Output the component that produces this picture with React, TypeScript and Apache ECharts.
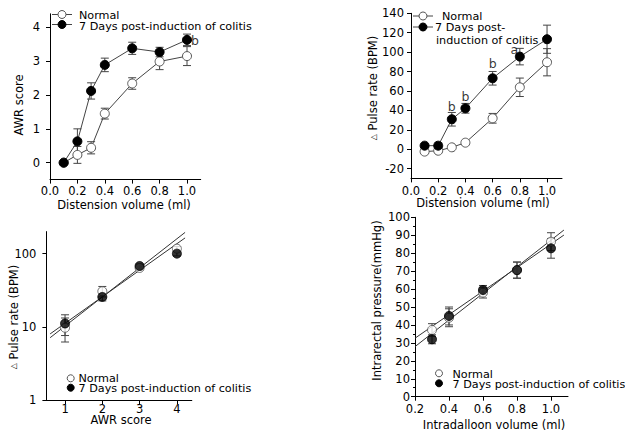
import React, { useEffect, useRef } from "react";
import * as echarts from "echarts";

// ---- Panel A: AWR score vs distension volume
const awrVolumes = [0.1, 0.2, 0.3, 0.4, 0.6, 0.8, 1.0];
const awrNormal = [0, 0.23, 0.44, 1.45, 2.34, 2.99, 3.15];
const awrNormalErr = [0, 0.25, 0.18, 0.16, 0.17, 0.24, 0.28];
const awrColitis = [0, 0.63, 2.12, 2.89, 3.38, 3.27, 3.63];
const awrColitisErr = [0, 0.37, 0.24, 0.2, 0.18, 0.14, 0.17];
const awrMarks = [[1.058, 3.62, "b"]];

// ---- Panel B: pulse rate vs distension volume
const pulseVolumes = [0.1, 0.2, 0.3, 0.4, 0.6, 0.8, 1.0];
const pulseNormal = [-2.4, -1.5, 2, 6.8, 31.9, 63.8, 89.6];
const pulseNormalErr = [2, 1.5, 1.5, 2, 5, 9.5, 14];
const pulseColitis = [3.7, 3.7, 30.9, 42.2, 73.1, 95.4, 113.3];
const pulseColitisErr = [2, 3, 7, 5, 7, 8.5, 14.5];
const pulseMarks = [
  [0.3, 44, "b"],
  [0.4, 54, "b"],
  [0.6, 88.6, "b"],
  [0.76, 103, "a"],
];

// ---- Panel C: pulse rate vs AWR score (log)
const awrScores = [1, 2, 3, 4];
const corrNormal = [9.7, 30.6, 63.7, 117];
const corrNormalErr = [3.5, 5, 4, 8];
const corrColitis = [11.1, 25.6, 67.8, 100];
const corrColitisErr = [3.5, 3, 4, 7];
const corrFitA = [[0.6, 7.1], [4.22, 195]];
const corrFitB = [[0.6, 8.0], [4.22, 164]];

// ---- Panel D: intrarectal pressure vs balloon volume
const balloonVolumes = [0.3, 0.4, 0.6, 0.8, 1.0];
const pressureNormal = [37.2, 44, 58, 70.5, 86.4];
const pressureNormalErr = [3.5, 5, 3, 4.5, 5];
const pressureColitis = [32, 45, 59.5, 70.6, 82.7];
const pressureColitisErr = [2.5, 5, 2.5, 4.5, 5.5];
const pressureFitA = [[0.2, 27.9], [1.076, 92.9]];
const pressureFitB = [[0.2, 32.6], [1.076, 90.1]];

// tick labels
const volTicks = [0, 0.2, 0.4, 0.6, 0.8, 1.0];
const awrTicks = [0, 1, 2, 3, 4];
const pulseTicks = [-20, 0, 20, 40, 60, 80, 100, 120, 140];
const scoreTicks = [1, 2, 3, 4];
const logTicks = [1, 10, 100];
const balloonTicks = [0.2, 0.4, 0.6, 0.8, 1.0];

const FONT = "DejaVu Sans";
const FS = 11.5;
const LFS = 11.2;
const LABEL_NORMAL = "Normal";
const LABEL_COLITIS = "7 Days post-induction of colitis";

const openItem = { color: "#fff", borderColor: "#555", borderWidth: 1 };
const fillItem = { color: "#000", borderColor: "#000", borderWidth: 1 };

function errorSeries(gi: number, xs: number[], ys: number[], errs: number[]) {
  return {
    type: "custom",
    xAxisIndex: gi,
    yAxisIndex: gi,
    silent: true,
    z: 1,
    encode: { x: 0, y: [1, 2] },
    data: xs.map((x, i) => [x, ys[i] - errs[i], ys[i] + errs[i]]),
    renderItem: (params: any, api: any) => {
      const lo = api.coord([api.value(0), api.value(1)]);
      const hi = api.coord([api.value(0), api.value(2)]);
      if (Math.abs(lo[1] - hi[1]) < 0.5) return { type: "group", children: [] };
      const w = 4;
      const style = { stroke: "#444", lineWidth: 1, fill: null };
      return {
        type: "group",
        children: [
          { type: "line", shape: { x1: lo[0], y1: lo[1], x2: hi[0], y2: hi[1] }, style },
          { type: "line", shape: { x1: lo[0] - w, y1: lo[1], x2: lo[0] + w, y2: lo[1] }, style },
          { type: "line", shape: { x1: hi[0] - w, y1: hi[1], x2: hi[0] + w, y2: hi[1] }, style },
        ],
      };
    },
  };
}

function lineSeries(gi: number, name: string, xs: number[], ys: number[], item: any) {
  return {
    type: "line",
    name,
    xAxisIndex: gi,
    yAxisIndex: gi,
    data: xs.map((x, i) => [x, ys[i]]),
    symbol: "circle",
    symbolSize: 9,
    showSymbol: true,
    itemStyle: item,
    lineStyle: { color: "#444", width: 1 },
    z: 3,
  };
}

function scatterSeries(gi: number, name: string, xs: number[], ys: number[], item: any) {
  return {
    type: "scatter",
    name,
    xAxisIndex: gi,
    yAxisIndex: gi,
    data: xs.map((x, i) => [x, ys[i]]),
    symbol: "circle",
    symbolSize: 9,
    itemStyle: item,
    z: 3,
  };
}

function fitSeries(gi: number, pts: number[][]) {
  return {
    type: "line",
    xAxisIndex: gi,
    yAxisIndex: gi,
    data: pts,
    symbol: "none",
    lineStyle: { color: "#333", width: 1 },
    z: 2,
    silent: true,
  };
}

function markSeries(gi: number, marks: any[]) {
  return {
    type: "scatter",
    xAxisIndex: gi,
    yAxisIndex: gi,
    symbolSize: 1,
    itemStyle: { color: "rgba(0,0,0,0)" },
    data: marks.map((m) => ({ value: [m[0], m[1]], name: m[2] })),
    label: {
      show: true,
      position: "inside",
      formatter: (p: any) => p.name,
      color: "#000",
      fontSize: 12.5,
      fontFamily: FONT,
    },
    z: 4,
    silent: true,
  };
}

function axis(opts: any) {
  const { min, max, ticks, margin, fmt, type, minor, interval } = opts;
  const a: any = {
    type: type || "value",
    min,
    max,
    axisLine: { show: true, onZero: false, lineStyle: { color: "#000", width: 1 } },
    axisTick: { show: true, length: 4, lineStyle: { color: "#000", width: 1 } },
    axisLabel: {
      show: true,
      color: "#000",
      fontSize: FS,
      fontFamily: FONT,
      margin,
      formatter: fmt,
      showMinLabel: true,
      showMaxLabel: true,
    },
    splitLine: { show: false },
  };
  if (type === "log") a.logBase = 10;
  if (interval) {
    a.interval = interval;
  } else if (ticks) {
    a.axisTick.customValues = ticks;
    a.axisLabel.customValues = ticks;
  }
  if (minor) a.minorTick = { show: true, splitNumber: 2, length: 2, lineStyle: { color: "#000" } };
  return a;
}

function legendItem(x: number, y: number, filled: boolean, withLine: boolean, r: number) {
  const els: any[] = [];
  if (withLine) {
    els.push({
      type: "line",
      shape: { x1: x - 10, y1: y, x2: x + 10, y2: y },
      style: { stroke: "#444", lineWidth: 1 },
    });
  }
  els.push({
    type: "circle",
    shape: { cx: x, cy: y, r },
    style: filled ? { fill: "#000", stroke: "#000" } : { fill: "#fff", stroke: "#555", lineWidth: 1 },
  });
  return els;
}

function txt(x: number, y: number, text: string, extra: any = {}) {
  return {
    type: "text",
    x,
    y,
    style: {
      text,
      fill: "#000",
      fontSize: LFS,
      fontFamily: FONT,
      align: "left",
      verticalAlign: "middle",
      ...extra,
    },
  };
}

function vtitle(x: number, y: number, text: string, rich?: any) {
  return {
    type: "text",
    x,
    y,
    rotation: Math.PI / 2,
    style: {
      text,
      fill: "#000",
      fontSize: FS,
      fontFamily: FONT,
      align: "center",
      verticalAlign: "middle",
      rich,
    },
  };
}

export default function App() {
  const ref = useRef<HTMLDivElement>(null);

  useEffect(() => {
    if (!ref.current) return;
    const chart = echarts.init(ref.current, undefined, { renderer: "svg" });
    const triRich = {
      t: { fontSize: 8, fontFamily: FONT, fill: "#000", color: "#000" },
    };
    const option: any = {
      animation: false,
      backgroundColor: "#fff",
      grid: [
        { left: 50, top: 13.8, width: 150.7, height: 165.8 },
        { left: 411, top: 13.3, width: 151, height: 165.1 },
        { left: 46.4, top: 231.6, width: 145.4, height: 168.4 },
        { left: 415, top: 217.3, width: 153, height: 179.4 },
      ],
      xAxis: [
        { gridIndex: 0, ...axis({ min: 0, max: 1.1, ticks: volTicks, margin: 5, fmt: (v: number) => v.toFixed(1) }) },
        { gridIndex: 1, ...axis({ min: 0, max: 1.11, ticks: volTicks, margin: 7, fmt: (v: number) => v.toFixed(1) }) },
        { gridIndex: 2, ...axis({ min: 0.5, max: 4.4, ticks: scoreTicks, margin: 3, fmt: (v: number) => String(v) }) },
        { gridIndex: 3, ...axis({ min: 0.2, max: 1.1, ticks: balloonTicks, margin: 6, fmt: (v: number) => v.toFixed(1) }) },
      ],
      yAxis: [
        { gridIndex: 0, ...axis({ min: -0.5, max: 4.4, ticks: awrTicks, margin: 10, fmt: (v: number) => String(v) }) },
        { gridIndex: 1, ...axis({ min: -30, max: 140, ticks: pulseTicks, margin: 7, fmt: (v: number) => String(v) }) },
        { gridIndex: 2, ...axis({ type: "log", min: 1, max: 200, ticks: logTicks, margin: 10, fmt: (v: number) => String(v) }) },
        { gridIndex: 3, ...axis({ min: 0, max: 100, interval: 10, margin: 5, minor: true, fmt: (v: number) => String(v) }) },
      ],
      series: [
        // panel A
        errorSeries(0, awrVolumes, awrNormal, awrNormalErr),
        errorSeries(0, awrVolumes, awrColitis, awrColitisErr),
        lineSeries(0, LABEL_NORMAL, awrVolumes, awrNormal, openItem),
        lineSeries(0, LABEL_COLITIS, awrVolumes, awrColitis, fillItem),
        markSeries(0, awrMarks),
        // panel B
        errorSeries(1, pulseVolumes, pulseNormal, pulseNormalErr),
        errorSeries(1, pulseVolumes, pulseColitis, pulseColitisErr),
        lineSeries(1, LABEL_NORMAL, pulseVolumes, pulseNormal, openItem),
        lineSeries(1, LABEL_COLITIS, pulseVolumes, pulseColitis, fillItem),
        markSeries(1, pulseMarks),
        // panel C
        fitSeries(2, corrFitA),
        fitSeries(2, corrFitB),
        errorSeries(2, awrScores, corrNormal, corrNormalErr),
        errorSeries(2, awrScores, corrColitis, corrColitisErr),
        scatterSeries(2, LABEL_NORMAL, awrScores, corrNormal, openItem),
        scatterSeries(2, LABEL_COLITIS, awrScores, corrColitis, fillItem),
        // panel D
        fitSeries(3, pressureFitA),
        fitSeries(3, pressureFitB),
        errorSeries(3, balloonVolumes, pressureNormal, pressureNormalErr),
        errorSeries(3, balloonVolumes, pressureColitis, pressureColitisErr),
        scatterSeries(3, LABEL_NORMAL, balloonVolumes, pressureNormal, openItem),
        scatterSeries(3, LABEL_COLITIS, balloonVolumes, pressureColitis, fillItem),
      ],
      graphic: [
        // legends
        ...legendItem(62, 14.5, false, true, 4),
        txt(79, 15.5, LABEL_NORMAL),
        ...legendItem(62, 24.5, true, true, 4),
        txt(79, 26, LABEL_COLITIS),

        ...legendItem(423, 16, false, true, 4),
        txt(442, 16.5, LABEL_NORMAL),
        ...legendItem(423, 27, true, true, 4),
        txt(435, 27.5, "7 Days post-"),
        txt(436, 40, "induction of colitis"),

        ...legendItem(70.7, 378.3, false, false, 3.5),
        txt(78.5, 378.5, LABEL_NORMAL),
        ...legendItem(70.7, 387.7, true, false, 3.5),
        txt(78.5, 388.5, LABEL_COLITIS),

        ...legendItem(439, 373.3, false, false, 3.5),
        txt(452.5, 374, LABEL_NORMAL),
        ...legendItem(439, 383.3, true, false, 3.5),
        txt(452.5, 384.5, LABEL_COLITIS),

        // axis titles
        vtitle(19, 105, "AWR score"),
        txt(124, 205, "Distension volume (ml)", { align: "center", fontSize: FS }),
        vtitle(373, 88, "{t|△} Pulse rate (BPM)", triRich),
        txt(483, 203, "Distension volume (ml)", { align: "center", fontSize: FS }),
        vtitle(13.5, 317, "{t|△} Pulse rate (BPM)", triRich),
        txt(121, 420, "AWR score", { align: "center", fontSize: FS }),
        vtitle(376.5, 300.5, "Intrarectal pressure(mmHg)"),
        txt(494, 425, "Intradalloon volume (ml)", { align: "center", fontSize: FS }),
      ],
    };
    chart.setOption(option);
    return () => chart.dispose();
  }, []);

  return (
    <div
      ref={ref}
      style={{ position: "absolute", left: 0, top: 0, width: 625, height: 437, background: "#fff" }}
    />
  );
}
